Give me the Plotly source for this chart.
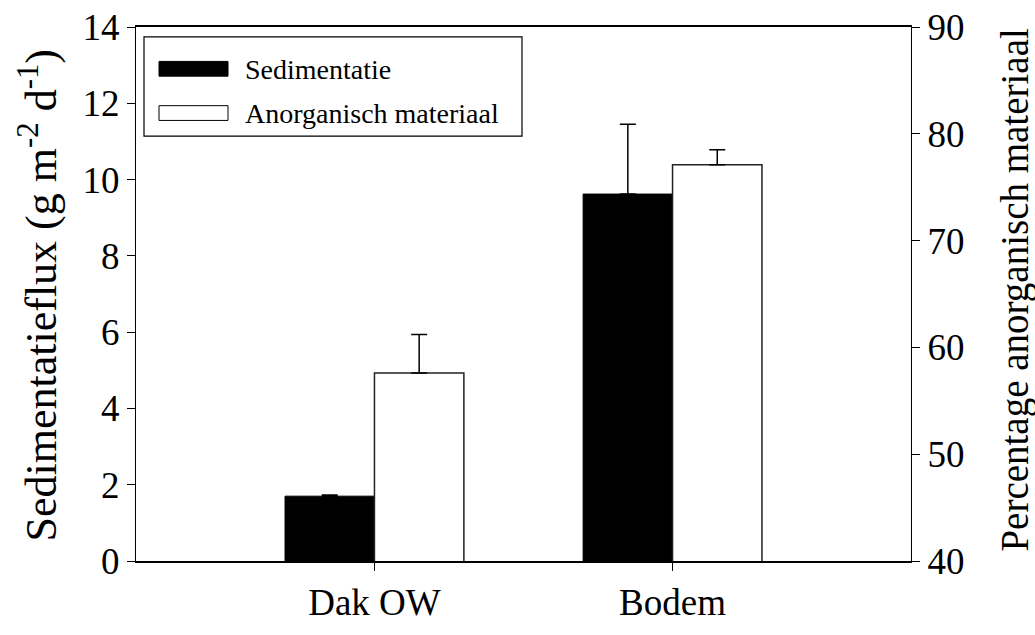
import plotly.graph_objects as go

categories = ["Dak OW", "Bodem"]
sed_values = [1.70, 9.62]
sed_err = [0.03, 1.83]
anorg_values = [57.6, 77.1]
anorg_err = [3.6, 1.4]
legend_labels = ["Sedimentatie", "Anorganisch materiaal"]
left_title = "Sedimentatieflux (g m<sup>-2</sup> d<sup>-1</sup>)"
right_title = "Percentage anorganisch materiaal"

FONT = "Liberation Serif"
x_pos = list(range(len(categories)))

fig = go.Figure()
fig.add_trace(go.Bar(
    x=x_pos, y=sed_values, width=0.3, offset=-0.3,
    marker=dict(color="black", line=dict(color="black", width=1)),
    error_y=dict(type="data", symmetric=False, array=sed_err,
                 arrayminus=[0] * len(sed_err), color="black", thickness=1.5, width=8),
    name=legend_labels[0], showlegend=False, yaxis="y",
))
fig.add_trace(go.Bar(
    x=x_pos, y=anorg_values, width=0.3, offset=0,
    marker=dict(color="white", line=dict(color="#222", width=1.5)),
    error_y=dict(type="data", symmetric=False, array=anorg_err,
                 arrayminus=[0] * len(anorg_err), color="black", thickness=1.5, width=8),
    name=legend_labels[1], showlegend=False, yaxis="y2",
))

# manual legend (box, swatches, labels) and axis titles in paper coordinates
W, H = 1035, 635
ml, mr, mt, mb = 136, 124, 27, 65
pw, ph = W - ml - mr, H - mt - mb
def px(x): return (x - ml) / pw
def py(y): return 1 - (y - mt) / ph

shapes = [
    dict(type="rect", xref="paper", yref="paper", x0=px(144), x1=px(522), y0=py(138), y1=py(37),
         line=dict(color="black", width=1.2), fillcolor="white", layer="above"),
    dict(type="rect", xref="paper", yref="paper", x0=px(159), x1=px(228), y0=py(77), y1=py(62),
         line=dict(color="black", width=1), fillcolor="black", layer="above"),
    dict(type="rect", xref="paper", yref="paper", x0=px(159), x1=px(228), y0=py(122), y1=py(107),
         line=dict(color="black", width=1), fillcolor="white", layer="above"),
]
annotations = [
    dict(xref="paper", yref="paper", x=px(243), y=py(70), text=legend_labels[0], showarrow=False,
         xanchor="left", yanchor="middle", font=dict(family=FONT, size=28, color="black")),
    dict(xref="paper", yref="paper", x=px(243), y=py(115), text=legend_labels[1], showarrow=False,
         xanchor="left", yanchor="middle", font=dict(family=FONT, size=28, color="black")),
    dict(xref="paper", yref="paper", x=px(38), y=py(300), text=left_title, showarrow=False,
         textangle=-90, xanchor="center", yanchor="middle",
         font=dict(family=FONT, size=44, color="black")),
    dict(xref="paper", yref="paper", x=px(1015), y=py(294), text=right_title, showarrow=False,
         textangle=-90, xanchor="center", yanchor="middle",
         font=dict(family=FONT, size=39, color="black")),
]

fig.update_layout(
    width=W, height=H,
    margin=dict(l=ml, r=mr, t=mt, b=mb),
    paper_bgcolor="white", plot_bgcolor="white",
    font=dict(family=FONT, size=36, color="black"),
    showlegend=False,
    barmode="overlay",
    shapes=shapes, annotations=annotations,
    xaxis=dict(range=[-0.8, 1.8], tickvals=x_pos, ticktext=categories,
               showline=True, linecolor="black", linewidth=1.5, mirror=True,
               ticks="outside", ticklen=8, tickcolor="black", showgrid=False, zeroline=False,
               tickfont=dict(family=FONT, size=37)),
    yaxis=dict(range=[0, 14], dtick=2, showline=True, linecolor="black", linewidth=1.2,
               ticks="outside", ticklen=8, tickcolor="black", showgrid=False, zeroline=False,
               tickfont=dict(family=FONT, size=37), automargin=False),
    yaxis2=dict(range=[40, 90], dtick=10, overlaying="y", side="right",
                showline=True, linecolor="black", linewidth=1.2,
                ticks="outside", ticklen=8, tickcolor="black", showgrid=False, zeroline=False,
                tickfont=dict(family=FONT, size=37), automargin=False),
)

fig.write_html("out.html")
